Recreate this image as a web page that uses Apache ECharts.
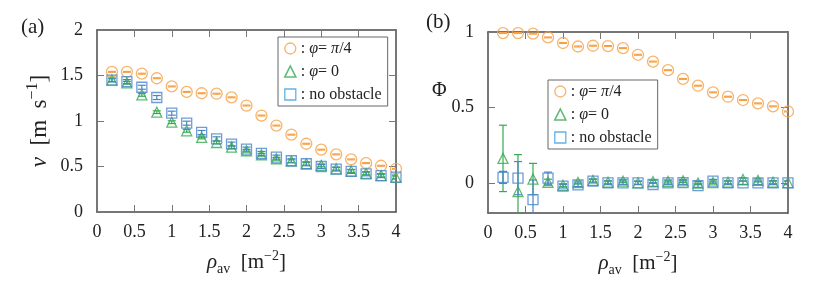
<!DOCTYPE html>
<html><head><meta charset="utf-8">
<script src="https://cdn.jsdelivr.net/npm/echarts@6/dist/echarts.min.js"></script>
<style>html,body{margin:0;padding:0;background:#fff}#c{width:830px;height:285px}</style>
</head><body><div id="c"></div>
<script>
// ---- data ----
const rho = [0.2,0.4,0.6,0.8,1.0,1.2,1.4,1.6,1.8,2.0,2.2,2.4,2.6,2.8,3.0,3.2,3.4,3.6,3.8,4.0];
// (a) mean speed v [m s^-1]
const vPi4  = [1.54,1.54,1.52,1.47,1.38,1.32,1.305,1.30,1.26,1.17,1.06,0.95,0.85,0.75,0.685,0.633,0.578,0.537,0.508,0.475];
const vZero = [1.45,1.42,1.287,1.097,0.987,0.892,0.819,0.764,0.713,0.673,0.629,0.585,0.559,0.530,0.512,0.475,0.450,0.424,0.400,0.380];
const vNone = [1.45,1.433,1.371,1.258,1.086,0.976,0.874,0.804,0.746,0.691,0.644,0.603,0.563,0.530,0.500,0.472,0.446,0.420,0.400,0.384];
const vErrPi4  = [0.005,0.005,0.005,0.005,0.005,0.005,0.005,0.005,0.005,0.005,0.005,0.005,0.005,0.005,0.005,0.005,0.005,0.005,0.005,0.005];
const vErrZero = [0.015,0.015,0.015,0.015,0.015,0.015,0.015,0.015,0.015,0.015,0.015,0.015,0.015,0.015,0.015,0.015,0.015,0.015,0.015,0.015];
const vErrNone = [0.022,0.022,0.022,0.022,0.022,0.022,0.022,0.022,0.022,0.022,0.022,0.022,0.022,0.022,0.022,0.022,0.022,0.022,0.022,0.022];
// (b) order parameter Phi
const phiPi4  = [0.993,0.993,0.989,0.964,0.927,0.904,0.909,0.907,0.893,0.849,0.804,0.747,0.689,0.644,0.600,0.571,0.549,0.527,0.507,0.473];
const phiZero = [0.162,-0.058,0.025,0.004,-0.016,0.002,0.016,0.004,0.011,0.000,0.007,0.009,0.013,-0.002,0.002,0.004,0.022,0.016,0.004,0.002];
const phiNone = [0.036,0.031,-0.111,0.031,-0.022,-0.013,0.011,0.000,0.000,0.000,-0.011,0.000,0.002,-0.018,0.011,0.000,0.000,0.000,0.000,0.000];
const phiErrPi4  = [0.003,0.003,0.003,0.003,0.003,0.003,0.003,0.003,0.003,0.003,0.003,0.003,0.003,0.003,0.003,0.003,0.003,0.003,0.003,0.003];
const phiErrZero = [0.22,0.245,0.104,0.02,0.01,0.01,0.01,0.01,0.01,0.01,0.01,0.01,0.01,0.01,0.01,0.01,0.01,0.01,0.01,0.01];
const phiErrNone = [0.04,0.11,0.13,0.04,0.012,0.012,0.012,0.012,0.012,0.012,0.012,0.012,0.012,0.012,0.012,0.012,0.012,0.012,0.012,0.012];
// ticks
const xTicks = [0,0.5,1,1.5,2,2.5,3,3.5,4];
const vTicks = [0,0.5,1,1.5,2];
const phiTicks = [0,0.5,1];
const legendText = {pi4:'{t|: }{i|φ}{t|= }{i|π}{t|/4}', zero:'{t|: }{i|φ}{t|= 0}', none:'{t|: no obstacle}'};

// ---- styles ----
const ORANGE='#f6a045', GREEN='#36aa50', BLUE='#4a84cc', LBLUE='#3a9de0';
const FONT='"Liberation Serif", "DejaVu Serif", serif';
const AX='#4a4a4a', TK='#777';

function pairs(xs, ys, es){ return xs.map((x,i)=>[x, ys[i], es[i]]); }
function errRender(color, capHalf){
  return function(params, api){
    const x=api.value(0), y=api.value(1), e=api.value(2);
    const p1=api.coord([x,y+e]), p2=api.coord([x,y-e]);
    const st={stroke:color, lineWidth:1.2};
    return {type:'group', children:[
      {type:'line', shape:{x1:p1[0],y1:p1[1],x2:p2[0],y2:p2[1]}, style:st},
      {type:'line', shape:{x1:p1[0]-capHalf,y1:p1[1],x2:p1[0]+capHalf,y2:p1[1]}, style:st},
      {type:'line', shape:{x1:p2[0]-capHalf,y1:p2[1],x2:p2[0]+capHalf,y2:p2[1]}, style:st}
    ]};
  };
}
function markers(name, sym, size, color, xi, yi, xs, ys, z){
  return {type:'scatter', name:name, xAxisIndex:xi, yAxisIndex:yi, symbol:sym, symbolSize:size,
    data: xs.map((x,i)=>[x, ys[i]]), z:z, clip:true, silent:true,
    itemStyle:{color:'rgba(255,255,255,0)', borderColor:color, borderWidth:1.3}};
}
function errs(color, xi, yi, xs, ys, es, z){
  return {type:'custom', xAxisIndex:xi, yAxisIndex:yi, clip:true, z:z, silent:true,
    data: pairs(xs, ys, es), renderItem: errRender(color, 4), encode:{x:0,y:1}};
}
function mkRich(fs){
  return {
    t:{fontFamily:FONT, fontSize:fs, color:'#222', lineHeight:fs+6, verticalAlign:'middle'},
    i:{fontFamily:FONT, fontSize:fs, color:'#222', fontStyle:'italic', lineHeight:fs+6, verticalAlign:'middle'},
    sup:{fontFamily:FONT, fontSize:Math.round(fs*0.68), color:'#222', lineHeight:12, verticalAlign:'top'},
    sub:{fontFamily:FONT, fontSize:Math.round(fs*0.68), color:'#222', lineHeight:12, verticalAlign:'bottom'}
  };
}
function xAx(gi, top){
  return {type:'value', gridIndex:gi, position: top?'top':'bottom', min:0, max:4, interval:0.5,
    axisLine:{show:true, onZero:false, lineStyle:{color:AX, width:1.5}},
    axisTick:{show:true, inside:true, length:7, lineStyle:{color:TK, width:1}, customValues: xTicks},
    axisLabel:{show:!top, margin:11, color:'#222', fontFamily:FONT, fontSize:18, customValues: xTicks},
    splitLine:{show:false},
    name: top?'':'{i|ρ}{sub|av}{t|  [m}{sup|−2}{t|]}', nameLocation:'middle', nameGap:37,
    nameTextStyle:{rich:mkRich(21)}};
}
function yAx(gi, right, min, max, ticks, name, nameOpts){
  const o = {type:'value', gridIndex:gi, position: right?'right':'left', min:min, max:max,
    axisLine:{show:true, onZero:false, lineStyle:{color:AX, width:1.5}},
    axisTick:{show:true, inside:true, length:7, lineStyle:{color:TK, width:1}, customValues: ticks},
    axisLabel:{show:!right, margin:14, color:'#222', fontFamily:FONT, fontSize:18, customValues: ticks},
    splitLine:{show:false}};
  if(!right && name){ Object.assign(o, {name:name, nameLocation:'middle'}, nameOpts); }
  return o;
}
function legendCfg(left, top){
  return {orient:'vertical', left:left, top:top, padding:[3,6,3,6], itemGap:6, itemWidth:11, itemHeight:11,
    backgroundColor:'#fff', borderColor:'#666', borderWidth:1, borderRadius:0, selectedMode:false,
    data:[
      {name:'pi4', icon:'circle', itemStyle:{color:'#fff', borderColor:ORANGE, borderWidth:1.3}},
      {name:'zero', icon:'triangle', itemStyle:{color:'#fff', borderColor:GREEN, borderWidth:1.6}},
      {name:'none', icon:'rect', itemStyle:{color:'#fff', borderColor:LBLUE, borderWidth:1.3}}
    ],
    formatter: n => legendText[n],
    textStyle:{fontFamily:FONT, fontSize:16, color:'#222', lineHeight:17, rich:{
      t:{fontFamily:FONT, fontSize:16, color:'#222', lineHeight:17},
      i:{fontFamily:FONT, fontSize:16, color:'#222', fontStyle:'italic', lineHeight:17}}}};
}

const series = [];
// panel (a)
series.push(errs(ORANGE,0,0,rho,vPi4,vErrPi4,2));
series.push(errs(GREEN,0,0,rho,vZero,vErrZero,2));
series.push(errs(BLUE,0,0,rho,vNone,vErrNone,2));
series.push(markers('pi4','circle',11,ORANGE,0,0,rho,vPi4,3));
series.push(markers('zero','triangle',10,GREEN,0,0,rho,vZero,3));
series.push(markers('none','rect',10,BLUE,0,0,rho,vNone,3));
// panel (b)
series.push(errs(ORANGE,2,2,rho,phiPi4,phiErrPi4,2));
series.push(errs(GREEN,2,2,rho,phiZero,phiErrZero,2));
series.push(errs(BLUE,2,2,rho,phiNone,phiErrNone,2));
series.push(markers('pi4','circle',11,ORANGE,2,2,rho,phiPi4,3));
series.push(markers('zero','triangle',10,GREEN,2,2,rho,phiZero,3));
series.push(markers('none','rect',10,BLUE,2,2,rho,phiNone,3));

const chart = echarts.init(document.getElementById('c'), null, {renderer:'canvas'});
chart.setOption({
  animation:false,
  backgroundColor:'#fff',
  title:[
    {text:'(a)', left:16, top:12, textStyle:{fontFamily:FONT, fontSize:21, fontWeight:'normal', color:'#222'}},
    {text:'(b)', left:421, top:7, textStyle:{fontFamily:FONT, fontSize:21, fontWeight:'normal', color:'#222'}}
  ],
  grid:[
    {left:97, top:30, width:299, height:182, containLabel:false, outerBoundsMode:'none'},
    {left:488, top:32, width:300, height:181, containLabel:false, outerBoundsMode:'none'}
  ],
  xAxis:[xAx(0,false), xAx(0,true), xAx(1,false), xAx(1,true)],
  yAxis:[
    yAx(0,false,0,2,vTicks,'{i|v}{t|  [m  s}{sup|−1}{t|]}',{nameGap:43, nameRotate:90, nameTextStyle:{rich:mkRich(23)}}),
    yAx(0,true,0,2,vTicks),
    yAx(1,false,-0.2,1,phiTicks,'{t|Φ}',{nameGap:41, nameRotate:0, nameTextStyle:{rich:mkRich(20), padding:[0,0,64,0]}}),
    yAx(1,true,-0.2,1,phiTicks)
  ],
  legend:[legendCfg(278,37), legendCfg(548,80)],
  series: series
});
</script></body></html>
